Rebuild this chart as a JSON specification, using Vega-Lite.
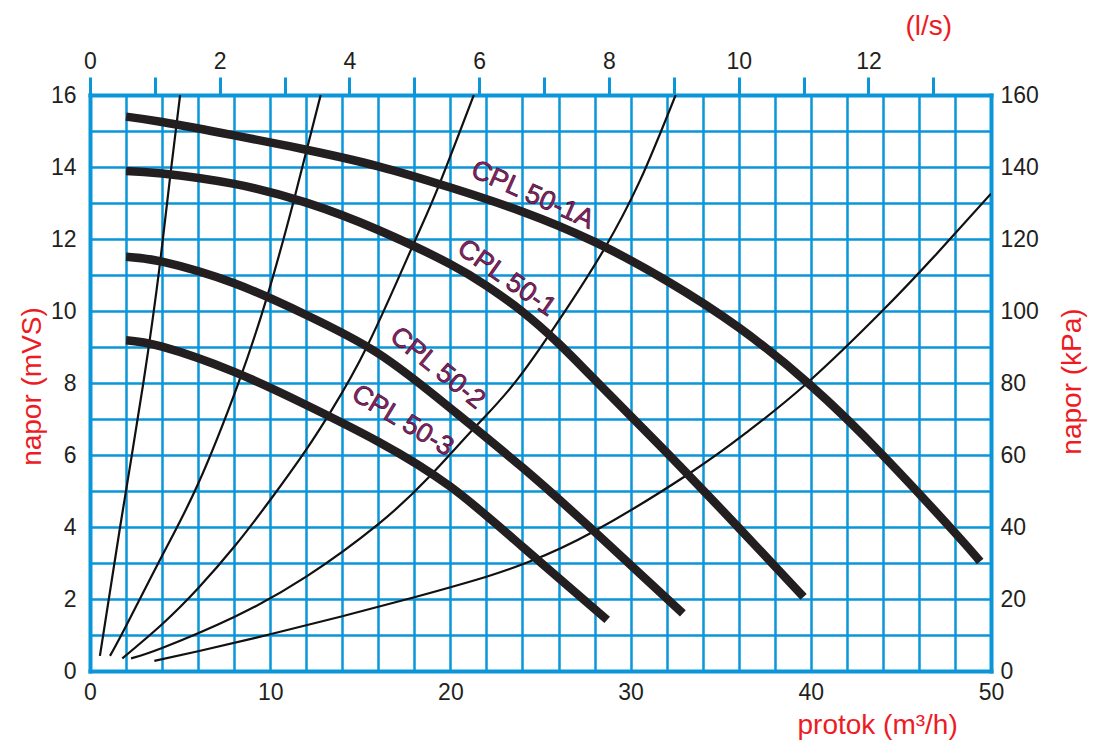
{
  "$schema": "https://vega.github.io/schema/vega-lite/v6.json",
  "width": 901,
  "height": 576,
  "autosize": {"type": "none"},
  "padding": {"left": 90, "top": 95, "right": 102, "bottom": 70},
  "background": "white",
  "config": {
    "view": {"stroke": null},
    "font": "Liberation Sans",
    "axis": {
      "labelFont": "Liberation Sans",
      "titleFont": "Liberation Sans",
      "labelFontSize": 23,
      "labelColor": "#231f20",
      "titleColor": "#ed1c24",
      "titleFontSize": 28,
      "titleFontWeight": "normal",
      "domainColor": "#0a96d8",
      "domainWidth": 4,
      "domainCap": "square",
      "gridColor": "#0a96d8",
      "gridWidth": 2.5,
      "gridOpacity": 1,
      "labelFlush": false,
      "labelBound": false,
      "labelOverlap": false
    }
  },
  "datasets": {
    "pumps": [
      {"c": "CPL 50-1A", "q": 2, "h": 15.40}, {"c": "CPL 50-1A", "q": 4, "h": 15.25}, {"c": "CPL 50-1A", "q": 8, "h": 14.88}, {"c": "CPL 50-1A", "q": 12, "h": 14.48}, {"c": "CPL 50-1A", "q": 16, "h": 14.02}, {"c": "CPL 50-1A", "q": 20, "h": 13.43}, {"c": "CPL 50-1A", "q": 24, "h": 12.76}, {"c": "CPL 50-1A", "q": 28, "h": 11.92}, {"c": "CPL 50-1A", "q": 32, "h": 10.84}, {"c": "CPL 50-1A", "q": 36, "h": 9.54}, {"c": "CPL 50-1A", "q": 40, "h": 7.93}, {"c": "CPL 50-1A", "q": 44, "h": 5.99}, {"c": "CPL 50-1A", "q": 48, "h": 3.84}, {"c": "CPL 50-1A", "q": 49.4, "h": 3.04},
      {"c": "CPL 50-1", "q": 2, "h": 13.89}, {"c": "CPL 50-1", "q": 4, "h": 13.82}, {"c": "CPL 50-1", "q": 8, "h": 13.53}, {"c": "CPL 50-1", "q": 12, "h": 13.01}, {"c": "CPL 50-1", "q": 16, "h": 12.25}, {"c": "CPL 50-1", "q": 20, "h": 11.3}, {"c": "CPL 50-1", "q": 22, "h": 10.7}, {"c": "CPL 50-1", "q": 24, "h": 9.98}, {"c": "CPL 50-1", "q": 26, "h": 9.1}, {"c": "CPL 50-1", "q": 28, "h": 8.1}, {"c": "CPL 50-1", "q": 32, "h": 6.07}, {"c": "CPL 50-1", "q": 36, "h": 3.98}, {"c": "CPL 50-1", "q": 39.6, "h": 2.06},
      {"c": "CPL 50-2", "q": 2, "h": 11.51}, {"c": "CPL 50-2", "q": 4, "h": 11.37}, {"c": "CPL 50-2", "q": 8, "h": 10.77}, {"c": "CPL 50-2", "q": 12, "h": 9.89}, {"c": "CPL 50-2", "q": 16, "h": 8.82}, {"c": "CPL 50-2", "q": 20, "h": 7.3}, {"c": "CPL 50-2", "q": 24, "h": 5.65}, {"c": "CPL 50-2", "q": 28, "h": 3.87}, {"c": "CPL 50-2", "q": 32.9, "h": 1.6},
      {"c": "CPL 50-3", "q": 2, "h": 9.19}, {"c": "CPL 50-3", "q": 4, "h": 9.01}, {"c": "CPL 50-3", "q": 8, "h": 8.31}, {"c": "CPL 50-3", "q": 12, "h": 7.39}, {"c": "CPL 50-3", "q": 16, "h": 6.37}, {"c": "CPL 50-3", "q": 20, "h": 5.12}, {"c": "CPL 50-3", "q": 24, "h": 3.45}, {"c": "CPL 50-3", "q": 28.7, "h": 1.42}
    ],
    "system": [
      {"s": "S1", "q": 0.55, "h": 0.42}, {"s": "S1", "q": 1.67, "h": 4.0}, {"s": "S1", "q": 2.96, "h": 8.0}, {"s": "S1", "q": 3.88, "h": 11.3}, {"s": "S1", "q": 4.44, "h": 13.7}, {"s": "S1", "q": 5.0, "h": 16.0},
      {"s": "S2", "q": 1.11, "h": 0.42}, {"s": "S2", "q": 2, "h": 1.25}, {"s": "S2", "q": 4, "h": 3.2}, {"s": "S2", "q": 6, "h": 5.2}, {"s": "S2", "q": 8.2, "h": 7.95}, {"s": "S2", "q": 9.8, "h": 10.35}, {"s": "S2", "q": 11.3, "h": 13.05}, {"s": "S2", "q": 12.8, "h": 16.0},
      {"s": "S3", "q": 1.79, "h": 0.35}, {"s": "S3", "q": 4, "h": 1.3}, {"s": "S3", "q": 6, "h": 2.3}, {"s": "S3", "q": 8, "h": 3.45}, {"s": "S3", "q": 10, "h": 4.75}, {"s": "S3", "q": 12, "h": 6.15}, {"s": "S3", "q": 13.4, "h": 7.24}, {"s": "S3", "q": 15.4, "h": 9.04}, {"s": "S3", "q": 17.9, "h": 11.8}, {"s": "S3", "q": 19.33, "h": 13.45}, {"s": "S3", "q": 21.3, "h": 16.0},
      {"s": "S4", "q": 2.28, "h": 0.35}, {"s": "S4", "q": 4, "h": 0.64}, {"s": "S4", "q": 8, "h": 1.5}, {"s": "S4", "q": 12, "h": 2.62}, {"s": "S4", "q": 16, "h": 4.08}, {"s": "S4", "q": 18.8, "h": 5.38}, {"s": "S4", "q": 21.4, "h": 6.79}, {"s": "S4", "q": 23.75, "h": 8.12}, {"s": "S4", "q": 26.5, "h": 10.1}, {"s": "S4", "q": 28.5, "h": 11.69}, {"s": "S4", "q": 30.5, "h": 13.6}, {"s": "S4", "q": 32.5, "h": 16.0},
      {"s": "S5", "q": 3.57, "h": 0.28}, {"s": "S5", "q": 6, "h": 0.55}, {"s": "S5", "q": 10, "h": 1.02}, {"s": "S5", "q": 14, "h": 1.52}, {"s": "S5", "q": 18, "h": 2.05}, {"s": "S5", "q": 22, "h": 2.62}, {"s": "S5", "q": 24.4, "h": 3.04}, {"s": "S5", "q": 27.9, "h": 3.86}, {"s": "S5", "q": 33.3, "h": 5.5}, {"s": "S5", "q": 36.5, "h": 6.65}, {"s": "S5", "q": 39.8, "h": 8.0}, {"s": "S5", "q": 44, "h": 10.02}, {"s": "S5", "q": 47, "h": 11.6}, {"s": "S5", "q": 50, "h": 13.26}
    ],
    "labels": [
      {"t": "CPL 50-1A", "q": 24.56, "h": 13.22},
      {"t": "CPL 50-1", "q": 23.12, "h": 10.91},
      {"t": "CPL 50-2", "q": 19.28, "h": 8.41},
      {"t": "CPL 50-3", "q": 17.34, "h": 6.95}
    ]
  },
  "layer": [
    {
      "data": {"name": "system"},
      "mark": {"type": "line", "interpolate": "natural", "color": "#111111", "strokeWidth": 2.2, "clip": true},
      "encoding": {
        "x": {"field": "q", "type": "quantitative", "scale": {"domain": [0, 50], "nice": false, "zero": true},
          "axis": {"orient": "top", "values": [0, 3.6, 7.2, 10.8, 14.4, 18, 21.6, 25.2, 28.8, 32.4, 36, 39.6, 43.2, 46.8],
            "labelExpr": "round(datum.value/3.6) % 2 == 0 ? format(round(datum.value/3.6), 'd') : ''",
            "grid": false, "ticks": true, "tickSize": 18, "tickWidth": 3, "tickColor": "#0a96d8", "labelPadding": 4,
            "title": "(l/s)", "titleX": 815, "titleY": -61, "titleAlign": "left", "titleBaseline": "alphabetic", "titleAngle": 0}},
        "y": {"field": "h", "type": "quantitative", "scale": {"domain": [0, 16], "nice": false},
          "axis": {"orient": "right", "values": [0, 2, 4, 6, 8, 10, 12, 14, 16],
            "labelExpr": "format(datum.value*10, 'd')", "grid": false, "ticks": false, "tickSize": 0, "labelPadding": 9,
            "title": "napor (kPa)", "titleAngle": 270, "titleX": 81, "titleY": 286, "titleAlign": "center", "titleBaseline": "middle"}},
        "detail": {"field": "s"}
      }
    },
    {
      "data": {"name": "pumps"},
      "mark": {"type": "line", "interpolate": "natural", "color": "#231f20", "strokeWidth": 8.5, "strokeCap": "butt"},
      "encoding": {
        "x": {"field": "q", "type": "quantitative",
          "axis": {"orient": "bottom", "values": [0, 2, 4, 6, 8, 10, 12, 14, 16, 18, 20, 22, 24, 26, 28, 30, 32, 34, 36, 38, 40, 42, 44, 46, 48, 50],
            "labelExpr": "datum.value % 10 == 0 ? datum.label : ''", "grid": true, "ticks": false, "tickSize": 0, "labelPadding": 10,
            "title": "protok (m³/h)", "titleX": 707, "titleY": 62, "titleAlign": "left", "titleBaseline": "alphabetic"}},
        "y": {"field": "h", "type": "quantitative",
          "axis": {"orient": "left", "values": [0, 1, 2, 3, 4, 5, 6, 7, 8, 9, 10, 11, 12, 13, 14, 15, 16],
            "labelExpr": "datum.value % 2 == 0 ? datum.label : ''", "grid": true, "ticks": false, "tickSize": 0, "labelPadding": 14,
            "title": "napor (mVS)", "titleAngle": 270, "titleX": -58, "titleY": 291, "titleAlign": "center", "titleBaseline": "middle"}},
        "detail": {"field": "c"}
      }
    },
    {
      "data": {"name": "labels"},
      "transform": [{"filter": "datum.t == 'CPL 50-1A'"}],
      "mark": {"type": "text", "angle": 24, "fontSize": 27, "font": "Liberation Sans", "fill": "#941e6e", "stroke": "#1e0a16", "strokeWidth": 0.6, "align": "center", "baseline": "middle"},
      "encoding": {"x": {"field": "q", "type": "quantitative", "axis": null}, "y": {"field": "h", "type": "quantitative", "axis": null}, "text": {"field": "t"}}
    },
    {
      "data": {"name": "labels"},
      "transform": [{"filter": "datum.t == 'CPL 50-1'"}],
      "mark": {"type": "text", "angle": 35, "fontSize": 27, "font": "Liberation Sans", "fill": "#941e6e", "stroke": "#1e0a16", "strokeWidth": 0.6, "align": "center", "baseline": "middle"},
      "encoding": {"x": {"field": "q", "type": "quantitative", "axis": null}, "y": {"field": "h", "type": "quantitative", "axis": null}, "text": {"field": "t"}}
    },
    {
      "data": {"name": "labels"},
      "transform": [{"filter": "datum.t == 'CPL 50-2'"}],
      "mark": {"type": "text", "angle": 39, "fontSize": 27, "font": "Liberation Sans", "fill": "#941e6e", "stroke": "#1e0a16", "strokeWidth": 0.6, "align": "center", "baseline": "middle"},
      "encoding": {"x": {"field": "q", "type": "quantitative", "axis": null}, "y": {"field": "h", "type": "quantitative", "axis": null}, "text": {"field": "t"}}
    },
    {
      "data": {"name": "labels"},
      "transform": [{"filter": "datum.t == 'CPL 50-3'"}],
      "mark": {"type": "text", "angle": 31, "fontSize": 27, "font": "Liberation Sans", "fill": "#941e6e", "stroke": "#1e0a16", "strokeWidth": 0.6, "align": "center", "baseline": "middle"},
      "encoding": {"x": {"field": "q", "type": "quantitative", "axis": null}, "y": {"field": "h", "type": "quantitative", "axis": null}, "text": {"field": "t"}}
    }
  ],
  "resolve": {"axis": {"x": "independent", "y": "independent"}}
}
